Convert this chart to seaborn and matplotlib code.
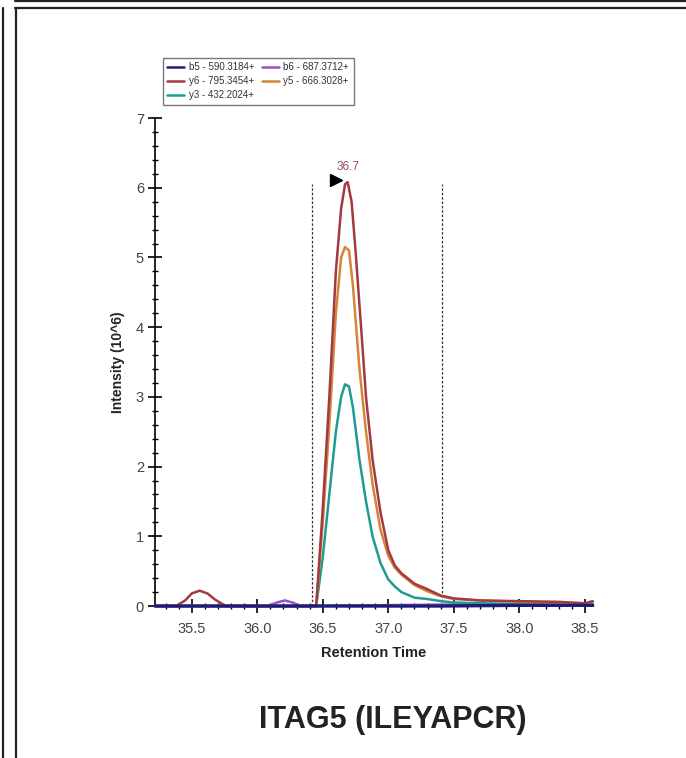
import numpy as np
import pandas as pd
import matplotlib
matplotlib.use("Agg")
import matplotlib.pyplot as plt
from matplotlib.lines import Line2D
from matplotlib.ticker import MultipleLocator
import seaborn as sns

# ---------------- data ----------------
ions = ["b5 - 590.3184+", "y6 - 795.3454+", "y3 - 432.2024+", "b6 - 687.3712+", "y5 - 666.3028+"]
colors = ["#1c1c7a", "#a33a42", "#1f9c92", "#9b4fc9", "#d6843a"]

y6_t = [35.22, 35.38, 35.45, 35.50, 35.56, 35.62, 35.68, 35.76, 36.0, 36.45, 36.50, 36.55, 36.60, 36.64, 36.67,
        36.69, 36.72, 36.75, 36.80, 36.83, 36.88, 36.94, 37.00, 37.05, 37.10, 37.20, 37.30, 37.40, 37.50, 37.70,
        38.00, 38.30, 38.50, 38.56]
y6_v = [0, 0, 0.08, 0.18, 0.22, 0.18, 0.09, 0, 0, 0, 1.4, 3.0, 4.8, 5.7, 6.05,
        6.08, 5.8, 5.1, 3.8, 3.0, 2.1, 1.35, 0.8, 0.58, 0.47, 0.32, 0.24, 0.15, 0.11, 0.08,
        0.07, 0.06, 0.04, 0.07]

y5_t = [35.22, 36.45, 36.50, 36.55, 36.60, 36.64, 36.67, 36.70, 36.73, 36.78, 36.83, 36.88, 36.94, 37.00, 37.05,
        37.10, 37.20, 37.30, 37.40, 37.50, 37.70, 38.00, 38.30, 38.50, 38.56]
y5_v = [0, 0, 1.2, 2.6, 4.2, 5.0, 5.15, 5.1, 4.6, 3.4, 2.5, 1.75, 1.1, 0.72, 0.55,
        0.45, 0.3, 0.21, 0.14, 0.1, 0.08, 0.06, 0.05, 0.03, 0.06]

y3_t = [35.22, 36.45, 36.50, 36.55, 36.60, 36.64, 36.67, 36.70, 36.73, 36.78, 36.83, 36.88, 36.94, 37.00, 37.05,
        37.10, 37.20, 37.30, 37.40, 37.50, 37.70, 38.00, 38.30, 38.50, 38.56]
y3_v = [0, 0, 0.7, 1.6, 2.5, 3.0, 3.18, 3.15, 2.85, 2.1, 1.5, 1.0, 0.62, 0.38, 0.28,
        0.2, 0.12, 0.1, 0.07, 0.05, 0.04, 0.03, 0.03, 0.02, 0.03]

b6_t = [35.22, 36.08, 36.15, 36.21, 36.27, 36.33, 37.4, 38.0, 38.56]
b6_v = [0, 0, 0.05, 0.08, 0.05, 0, 0.02, 0.02, 0.02]

b5_t = [35.22, 37.4, 38.0, 38.56]
b5_v = [0, 0.0, 0.01, 0.01]

apex_rt = 36.7
apex_label = "36.7"
boundary_left = 36.42
boundary_right = 37.41
x_ticks = [35.5, 36.0, 36.5, 37.0, 37.5, 38.0, 38.5]
title = "ITAG5 (ILEYAPCR)"

series = {ions[0]: (b5_t, b5_v), ions[1]: (y6_t, y6_v), ions[2]: (y3_t, y3_v),
          ions[3]: (b6_t, b6_v), ions[4]: (y5_t, y5_v)}
frames = [pd.DataFrame({"rt": t, "intensity": v, "ion": name}) for name, (t, v) in series.items()]
df = pd.concat(frames, ignore_index=True)

# ---------------- plot ----------------
sns.set_theme(style="white")
plt.rcParams["font.family"] = ["Liberation Sans", "DejaVu Sans"]

fig = plt.figure(figsize=(6.86, 7.58), dpi=100)
ax = fig.add_axes([0.226, 0.2005, 0.638, 0.6438])

palette = dict(zip(ions, colors))
draw_order = [ions[3], ions[2], ions[4], ions[1], ions[0]]
for i, name in enumerate(draw_order):
    sub = df[df["ion"] == name]
    sns.lineplot(data=sub, x="rt", y="intensity", color=palette[name], ax=ax,
                 linewidth=1.8 if name != ions[0] else 2.4, legend=False, sort=True,
                 zorder=3 + i, clip_on=False)

for xb in (boundary_left, boundary_right):
    ax.plot([xb, xb], [0, 6.05], color="#333333", linestyle=(0, (2, 1.5)), linewidth=0.9, zorder=2)

ax.plot([36.60], [6.11], marker=">", color="black", markersize=8, linestyle="none")
ax.text(36.69, 6.3, apex_label, color="#9a4a55", fontsize=8.5, ha="center", va="center")

ax.set_xlim(35.22, 38.56)
ax.set_ylim(0, 7)
ax.set_xticks(x_ticks)
ax.set_xticklabels([f"{v:.1f}" for v in x_ticks])
ax.xaxis.set_minor_locator(MultipleLocator(0.1))
ax.set_yticks(range(0, 8))
ax.yaxis.set_minor_locator(MultipleLocator(0.2))
ax.tick_params(axis="both", which="major", direction="inout", length=10, width=1.2,
               color="black", labelsize=10.5, labelcolor="#444444", pad=3)
ax.tick_params(axis="x", which="major", pad=6.5)
ax.tick_params(axis="both", which="minor", direction="inout", length=5, width=1.0, color="black")
ax.tick_params(axis="both", which="both", bottom=True, left=True)
for s in ("top", "right"):
    ax.spines[s].set_visible(False)
for s in ("left", "bottom"):
    ax.spines[s].set_color("black")
    ax.spines[s].set_linewidth(1.2)

ax.set_xlabel("Retention Time", fontsize=10.5, fontweight="bold", labelpad=7, color="#222222")
ax.set_ylabel("Intensity (10^6)", fontsize=10, fontweight="bold", labelpad=8, color="#222222")

handles = [Line2D([0], [0], color=c, linewidth=1.8) for c in colors]
leg = ax.legend(handles, ions, ncol=2, loc="upper left", bbox_to_anchor=(0.018, 1.123),
                borderaxespad=0, fontsize=7.0, frameon=True, fancybox=False,
                handlelength=1.7, handletextpad=0.5, columnspacing=0.8,
                labelspacing=0.4, borderpad=0.45)
leg.get_frame().set_edgecolor("#555555")
leg.get_frame().set_linewidth(1.0)
for t in leg.get_texts():
    t.set_color("#333333")

fig.text(0.572, 0.05, title, fontsize=22, fontweight="bold", ha="center", va="center", color="#222222")

# page frame lines
lw = 1.6
fig.add_artist(Line2D([15 / 686, 1], [1 - 1 / 758, 1 - 1 / 758], color="#222222", linewidth=lw))
fig.add_artist(Line2D([15 / 686, 1], [1 - 8 / 758, 1 - 8 / 758], color="#222222", linewidth=lw))
fig.add_artist(Line2D([2.5 / 686, 2.5 / 686], [0, 1 - 8 / 758], color="#222222", linewidth=lw))
fig.add_artist(Line2D([16 / 686, 16 / 686], [0, 1 - 8 / 758], color="#222222", linewidth=lw))

fig.savefig("out.png", dpi=100, facecolor="white")
